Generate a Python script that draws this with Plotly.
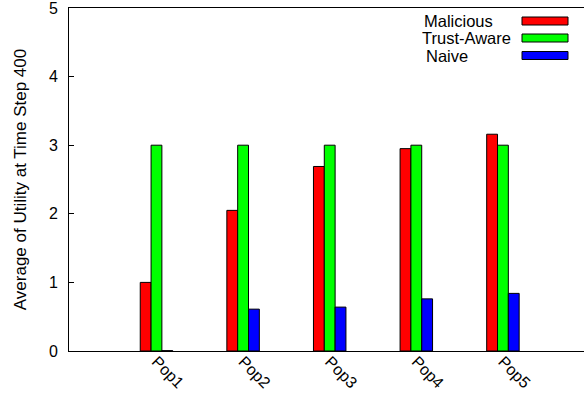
import plotly.graph_objects as go

categories = ["Pop1", "Pop2", "Pop3", "Pop4", "Pop5"]
malicious = [1.0, 2.05, 2.69, 2.95, 3.16]
trust_aware = [3.0, 3.0, 3.0, 3.0, 3.0]
naive = [0.005, 0.61, 0.64, 0.76, 0.84]
series_names = ["Malicious", "Trust-Aware", "Naive"]
colors = ["#ff0000", "#00ff00", "#0000ff"]
y_ticks = [0, 1, 2, 3, 4, 5]

FONT = "Liberation Sans, Arial, sans-serif"
W, H = 584, 395
ML, MR, MT, MB = 69, 0, 8, 44
PW, PH = W - ML - MR, H - MT - MB


def px_x(x):
    return (x - ML) / PW


def px_y(y):
    return 1 - (y - MT) / PH


fig = go.Figure()
for name, vals, col in zip(series_names, [malicious, trust_aware, naive], colors):
    fig.add_trace(go.Bar(x=categories, y=vals, name=name,
                         marker=dict(color=col, line=dict(color="black", width=1)),
                         showlegend=False))

# manual legend (text then swatch), gnuplot style
legend_text_x = [422, 420, 424]
legend_row_y = [21, 38, 55.5]
for name, col, tx, ry in zip(series_names, colors, legend_text_x, legend_row_y):
    fig.add_annotation(xref="paper", yref="paper", x=px_x(tx), y=px_y(ry), text=name, showarrow=False,
                       xanchor="left", yanchor="middle",
                       font=dict(family=FONT, size=16.5, color="black"))
    fig.add_shape(type="rect", xref="paper", yref="paper",
                  x0=px_x(522), x1=px_x(568), y0=px_y(ry + 4), y1=px_y(ry - 4),
                  fillcolor=col, line=dict(color="black", width=1))

fig.update_layout(
    width=W, height=H,
    margin=dict(l=ML, r=MR, t=MT, b=MB, autoexpand=False),
    plot_bgcolor="white", paper_bgcolor="white",
    barmode="group", bargap=0.625, bargroupgap=0,
    font=dict(family=FONT, size=16, color="black"),
    xaxis=dict(range=[-1.01, 4.936], showline=True, linecolor="black", linewidth=1, mirror=True,
               showgrid=False, ticks="", tickangle=45, tickfont=dict(size=16), automargin=False,
               ticklabelstandoff=-6, ticklabeloverflow="allow"),
    yaxis=dict(range=[0, 5], tickvals=y_ticks, showline=True, linecolor="black", linewidth=1,
               showgrid=False, zeroline=False, ticks="inside", ticklen=5, tickcolor="black",
               tickfont=dict(size=16), ticklabelstandoff=7, automargin=False,
               ticklabeloverflow="allow",
               title=dict(text="Average of Utility at Time Step 400", font=dict(size=17), standoff=17)),
)

fig.write_html("out.html", config={"displayModeBar": False},
               post_script="document.body.style.margin='0';")
